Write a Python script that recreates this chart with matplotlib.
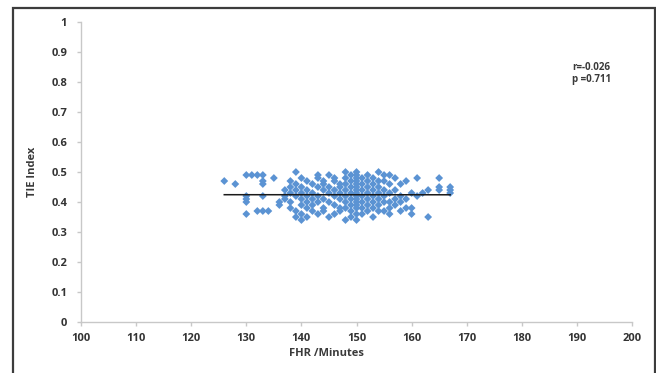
import numpy as np
import matplotlib
matplotlib.use('Agg')
import matplotlib.pyplot as plt
from matplotlib.patches import Rectangle

# FHR values (x) and TIE index values (y)
fhr_cols = [126, 128, 130, 131, 132, 133, 134, 135, 136, 137, 138, 139, 140, 141,
            142, 143, 144, 145, 146, 147, 148, 149, 150, 151, 152, 153, 154, 155,
            156, 157, 158, 159, 160, 161, 162, 163, 165, 167]
tie_cols = [
    [0.47],
    [0.46],
    [0.49, 0.42, 0.41, 0.40, 0.36],
    [0.49],
    [0.49, 0.37],
    [0.37, 0.49, 0.47, 0.46, 0.42],
    [0.37],
    [0.48],
    [0.40, 0.39],
    [0.41, 0.42, 0.44],
    [0.43, 0.45, 0.47, 0.40, 0.38],
    [0.50, 0.46, 0.44, 0.42, 0.37, 0.35],
    [0.48, 0.45, 0.43, 0.41, 0.39, 0.36, 0.34],
    [0.47, 0.44, 0.42, 0.40, 0.38, 0.35],
    [0.46, 0.43, 0.41, 0.39, 0.37],
    [0.49, 0.48, 0.45, 0.42, 0.40, 0.36],
    [0.47, 0.46, 0.44, 0.41, 0.38, 0.37],
    [0.49, 0.45, 0.43, 0.40, 0.35],
    [0.48, 0.47, 0.44, 0.42, 0.39, 0.36],
    [0.46, 0.45, 0.43, 0.41, 0.38, 0.37],
    [0.50, 0.48, 0.46, 0.44, 0.42, 0.40, 0.38, 0.34],
    [0.49, 0.47, 0.45, 0.43, 0.41, 0.39, 0.37, 0.35],
    [0.50, 0.49, 0.48, 0.47, 0.46, 0.45, 0.44, 0.43, 0.42, 0.41, 0.40, 0.39, 0.38, 0.36, 0.34],
    [0.48, 0.46, 0.44, 0.42, 0.40, 0.38, 0.36],
    [0.49, 0.47, 0.45, 0.43, 0.41, 0.39, 0.37],
    [0.48, 0.46, 0.44, 0.42, 0.40, 0.38, 0.35],
    [0.50, 0.47, 0.45, 0.43, 0.41, 0.39, 0.37],
    [0.49, 0.47, 0.44, 0.42, 0.40, 0.37],
    [0.49, 0.46, 0.43, 0.40, 0.38, 0.36],
    [0.48, 0.44, 0.41, 0.39],
    [0.46, 0.42, 0.40, 0.37],
    [0.47, 0.41, 0.38],
    [0.43, 0.38, 0.36],
    [0.48, 0.42],
    [0.43],
    [0.44, 0.35],
    [0.48, 0.45, 0.44],
    [0.45, 0.44, 0.43],
]

x_ticks = [100, 110, 120, 130, 140, 150, 160, 170, 180, 190, 200]
y_ticks = [0, 0.1, 0.2, 0.3, 0.4, 0.5, 0.6, 0.7, 0.8, 0.9, 1]
y_ticklabels = ['0', '0.1', '0.2', '0.3', '0.4', '0.5', '0.6', '0.7', '0.8', '0.9', '1']

fhr = np.array([x for x, col in zip(fhr_cols, tie_cols) for _ in col], dtype=float)
tie = np.array([y for col in tie_cols for y in col])

plt.rcParams['font.family'] = ['Open Sans', 'DejaVu Sans']

fig = plt.figure(figsize=(6.56, 3.73), dpi=100)
ax = fig.add_axes([0.1235, 0.1367, 0.8399, 0.8043])

ax.scatter(fhr, tie, marker='D', s=16, color='#5b93d3', edgecolors='none', zorder=2)

# linear trend line
slope, intercept = np.polyfit(fhr, tie, 1)
xs = np.array([fhr.min(), fhr.max()])
ax.plot(xs, slope * xs + intercept, color='#1a1a1a', lw=1.1, zorder=3)

ax.set_xlim(100, 200)
ax.set_ylim(0, 1)
ax.set_xticks(x_ticks)
ax.set_xticklabels([str(t) for t in x_ticks])
ax.set_yticks(y_ticks)
ax.set_yticklabels(y_ticklabels)

for s in ['top', 'right']:
    ax.spines[s].set_visible(False)
for s in ['left', 'bottom']:
    ax.spines[s].set_color('#c8c8c8')
    ax.spines[s].set_linewidth(1.0)

ax.tick_params(axis='both', colors='#c8c8c8', length=3, width=1, labelcolor='#333333', labelsize=8)
ax.tick_params(axis='y', pad=7)
ax.tick_params(axis='x', pad=5)
for lbl in ax.get_xticklabels() + ax.get_yticklabels():
    lbl.set_fontweight('bold')

ax.set_xlabel('FHR /Minutes', fontsize=8, fontweight='bold', color='#3a3a3a')
ax.xaxis.set_label_coords(0.445, -0.085)
ax.set_ylabel('TIE Index', fontsize=8, fontweight='bold', color='#3a3a3a')
ax.yaxis.set_label_coords(-0.078, 0.5)

ax.text(189.2, 0.85, 'r=-0.026', fontsize=7, fontweight='bold', color='#3a3a3a', va='center')
ax.text(189.2, 0.807, 'p =0.711', fontsize=7, fontweight='bold', color='#3a3a3a', va='center')

# outer frame, open at the bottom
fig.patches.append(Rectangle((12.5 / 656, -0.05), (654.5 - 12.5) / 656, 1.05 - 8 / 373,
                             transform=fig.transFigure, fill=False,
                             edgecolor='#3c3c3c', lw=1.6))

fig.savefig('out.png', dpi=100)
